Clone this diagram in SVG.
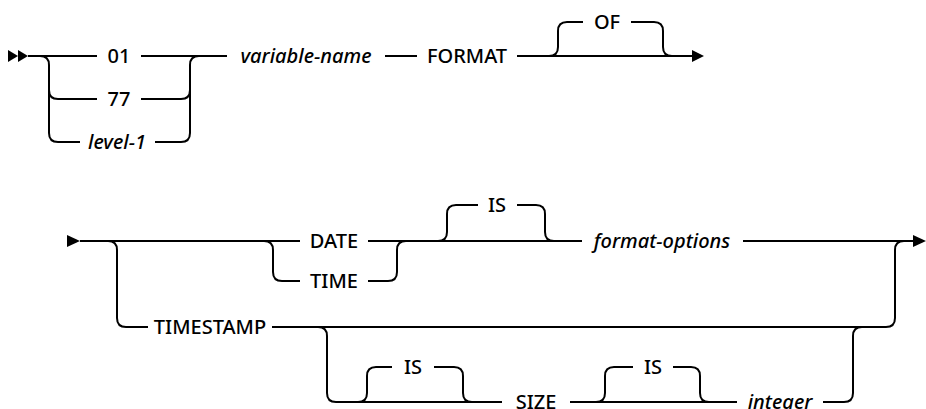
<svg xmlns="http://www.w3.org/2000/svg" width="926" height="409" viewBox="0 0 926 409">
<style>
.t{font-family:"Noto Sans","Liberation Sans",sans-serif;font-size:20px;font-weight:500;fill:#000;text-anchor:middle}
.i{font-style:italic}
.c{fill:none;stroke:#000;stroke-width:2}
.a{fill:#000}
</style>
<rect width="926" height="409" fill="#fff"/>
<g id="connectors">
<!-- row 1 -->
<polygon class="a" points="8,50 18,56 8,62"/>
<polygon class="a" points="18,50 28,56 18,62"/>
<path class="c" d="M28,56 H97 M141,56 H227"/>
<path class="c" d="M40,56 Q49,56 49,65 V133 Q49,142 58,142 H80"/>
<path class="c" d="M49,90 Q49,99 58,99 H97"/>
<path class="c" d="M141,99 H181 Q190,99 190,90"/>
<path class="c" d="M155,142 H181 Q190,142 190,133 V65 Q190,56 199,56"/>
<path class="c" d="M385,56 H417 M517,56 H693"/>
<path class="c" d="M549,56 Q558,56 558,47 V31 Q558,22 567,22 H583 M631,22 H654 Q663,22 663,31 V47 Q663,56 672,56"/>
<polygon class="a" points="692,50 704,56 692,62"/>
<!-- row 2 -->
<polygon class="a" points="67,235 80,241 67,247"/>
<path class="c" d="M80,241 H300 M368,241 H582 M743,241 H914"/>
<path class="c" d="M264,241 Q273,241 273,250 V272 Q273,281 282,281 H300"/>
<path class="c" d="M368,281 H388 Q397,281 397,272 V250 Q397,241 406,241"/>
<path class="c" d="M438,241 Q447,241 447,232 V214 Q447,205 456,205 H478 M517,205 H536 Q545,205 545,214 V232 Q545,241 554,241"/>
<polygon class="a" points="913,235 926,241 913,247"/>
<path class="c" d="M108,241 Q117,241 117,250 V318 Q117,327 126,327 H148 M272,327 H886 Q895,327 895,318 V250 Q895,241 904,241"/>
<path class="c" d="M318,327 Q327,327 327,336 V393 Q327,402 336,402 H502 M570,402 H737 M823,402 H844 Q853,402 853,393 V336 Q853,327 862,327"/>
<path class="c" d="M358,402 Q367,402 367,393 V376 Q367,367 376,367 H392 M434,367 H454 Q463,367 463,376 V393 Q463,402 472,402"/>
<path class="c" d="M596,402 Q605,402 605,393 V376 Q605,367 614,367 H633 M673,367 H691 Q700,367 700,376 V393 Q700,402 709,402"/>
</g>
<g id="n01"><text class="t" x="119" y="63">01</text></g>
<g id="n77"><text class="t" x="119" y="106">77</text></g>
<g id="nlevel1"><text class="t i" x="117" y="149">level-1</text></g>
<g id="nvarname"><text class="t i" x="306" y="63">variable-name</text></g>
<g id="nformat"><text class="t" x="467" y="63">FORMAT</text></g>
<g id="nof"><text class="t" x="607" y="29">OF</text></g>
<g id="ndate"><text class="t" x="334" y="248">DATE</text></g>
<g id="ntime"><text class="t" x="334" y="288">TIME</text></g>
<g id="nis1"><text class="t" x="497" y="212">IS</text></g>
<g id="nformatopt"><text class="t i" x="662" y="248">format-options</text></g>
<g id="ntimestamp"><text class="t" x="210" y="334">TIMESTAMP</text></g>
<g id="nis2"><text class="t" x="413" y="374">IS</text></g>
<g id="nsize"><text class="t" x="536" y="409">SIZE</text></g>
<g id="nis3"><text class="t" x="653" y="374">IS</text></g>
<g id="ninteger"><text class="t i" x="780" y="409">integer</text></g>
</svg>
